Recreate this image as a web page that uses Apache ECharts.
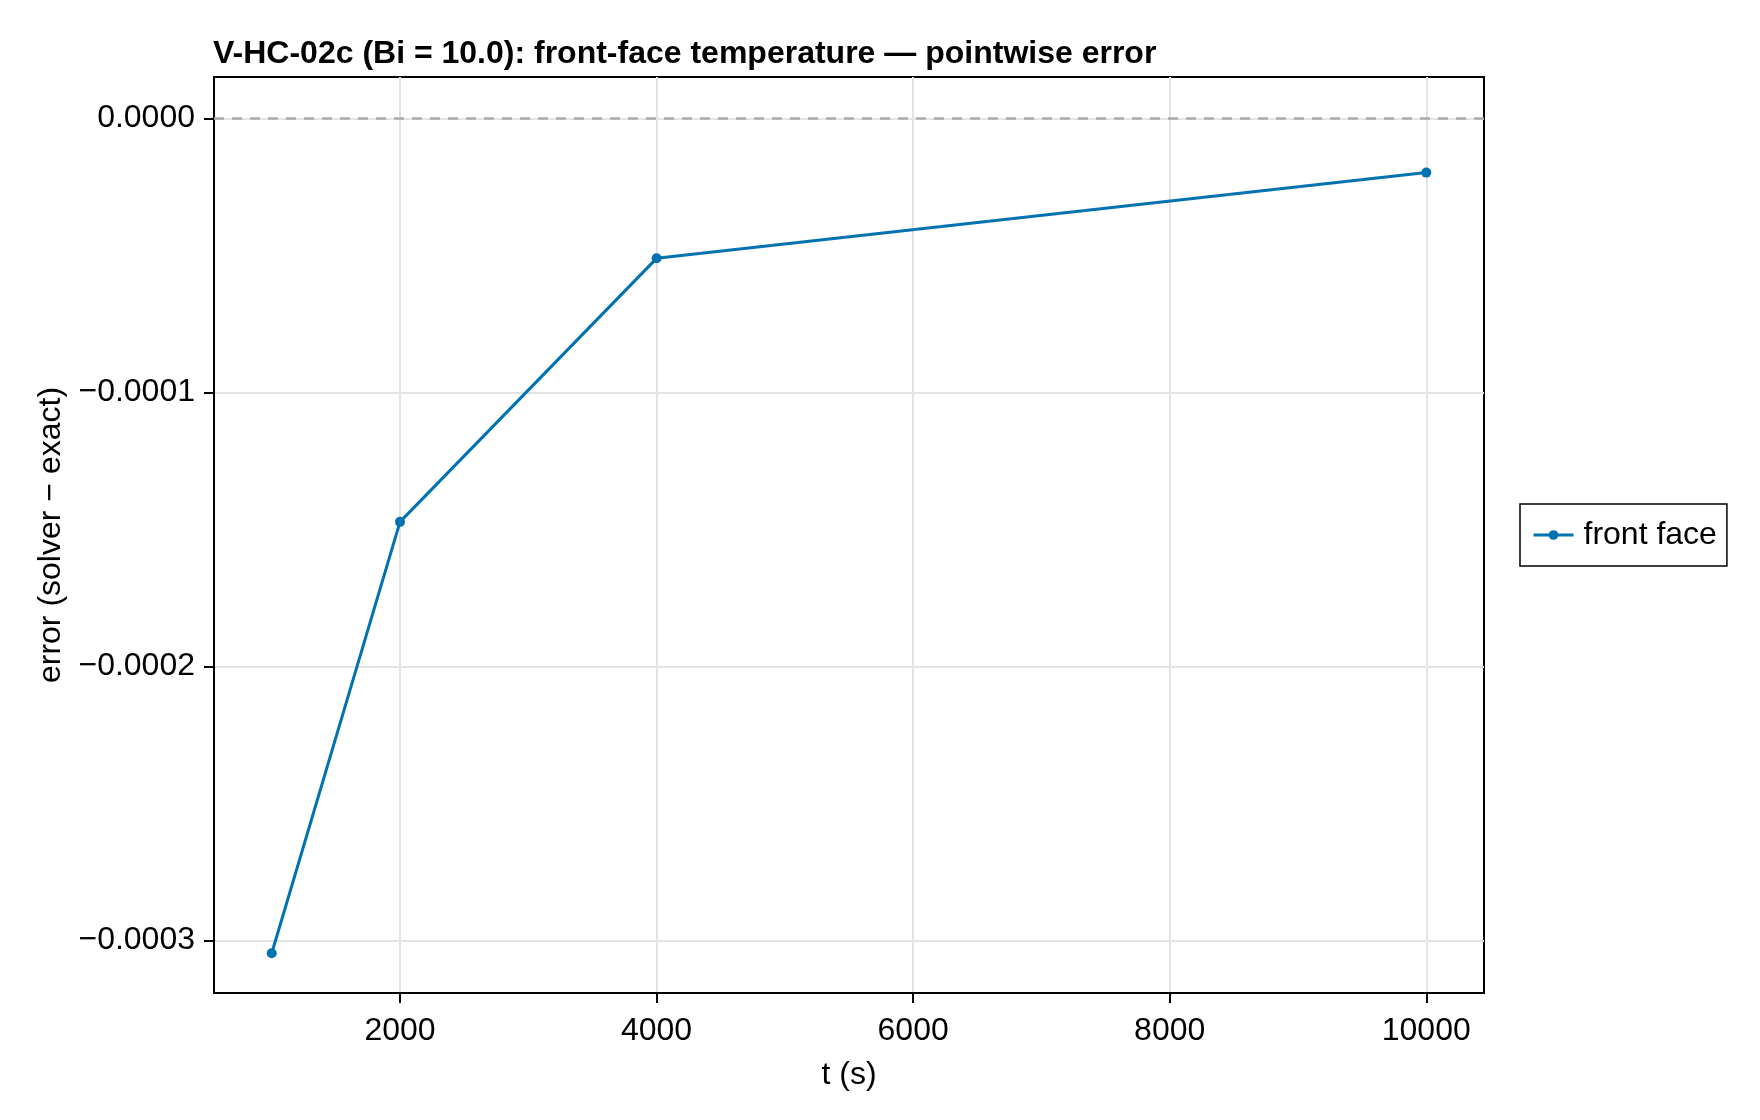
<!DOCTYPE html>
<html lang="en">
<head>
	<meta charset="UTF-8">
	<title>V-HC-02c pointwise error</title>
	<script src="https://cdn.jsdelivr.net/npm/echarts@6/dist/echarts.min.js"></script>
	<style>
		html, body { margin: 0; padding: 0; background: #fff; }
		#chart { width: 1760px; height: 1120px; }
	</style>
</head>
<body>
	<div id="chart"></div>
	<script>
		// data
		var times = [1000, 2000, 4000, 10000];
		var errors = [-0.0003047, -0.0001472, -0.0000510, -0.0000197];
		var xTicks = [2000, 4000, 6000, 8000, 10000];
		var yTicks = [0, -0.0001, -0.0002, -0.0003];
		var zeroLine = 0;

		var FONT = '"Liberation Sans", Arial, sans-serif';
		var points = times.map(function (t, i) { return [t, errors[i]]; });

		function fmtY(v) {
			var s = Number(v).toFixed(4);
			if (s === '-0.0000') s = '0.0000';
			return s.replace('-', '\u2212');
		}

		var chart = echarts.init(document.getElementById('chart'));
		chart.setOption({
			animation: false,
			backgroundColor: '#fff',
			textStyle: { fontFamily: FONT },
			title: {
				text: 'V-HC-02c (Bi = 10.0): front-face temperature \u2014 pointwise error',
				left: 208,
				top: 33,
				textStyle: { fontFamily: FONT, fontWeight: 'bold', fontSize: 32, color: '#000' }
			},
			legend: {
				left: 1520,
				top: 504,
				orient: 'vertical',
				padding: [15, 10, 15, 12],
				borderColor: '#000',
				borderWidth: 1.5,
				itemWidth: 40,
				itemHeight: 12,
				lineStyle: { width: 3 },
				textStyle: { fontFamily: FONT, fontSize: 32, color: '#000', padding: [0, 0, 0, 5] },
				data: ['front face']
			},
			grid: {
				left: 214,
				right: 276,
				top: 77,
				bottom: 127,
				show: true,
				borderColor: '#000',
				borderWidth: 2,
				containLabel: false
			},
			xAxis: {
				type: 'value',
				min: 550,
				max: 10450,
				name: 't (s)',
				nameLocation: 'middle',
				nameGap: 66,
				nameTextStyle: { fontFamily: FONT, fontSize: 32, color: '#000' },
				axisLine: { show: true, onZero: false, lineStyle: { color: '#000', width: 2 } },
				axisTick: { show: true, inside: false, length: 10, customValues: xTicks, lineStyle: { color: '#000', width: 2 } },
				axisLabel: {
					customValues: xTicks, margin: 22, fontSize: 32, color: '#000', fontFamily: FONT,
					formatter: function (v) { return String(v); }
				},
				splitLine: { show: true, lineStyle: { color: '#e3e3e3', width: 2 } }
			},
			yAxis: {
				type: 'value',
				min: -0.0003192,
				max: 0.0000152,
				name: 'error (solver \u2212 exact)',
				nameLocation: 'middle',
				nameGap: 146,
				nameRotate: 90,
				nameTextStyle: { fontFamily: FONT, fontSize: 32, color: '#000' },
				axisLine: { show: true, onZero: false, lineStyle: { color: '#000', width: 2 } },
				axisTick: { show: true, inside: false, length: 10, customValues: yTicks, lineStyle: { color: '#000', width: 2 } },
				axisLabel: { customValues: yTicks, margin: 19, fontSize: 32, color: '#000', fontFamily: FONT, formatter: fmtY },
				splitLine: { show: true, lineStyle: { color: '#e3e3e3', width: 2 } }
			},
			series: [{
				name: 'front face',
				type: 'line',
				data: points,
				color: '#0072B2',
				symbol: 'circle',
				symbolSize: 10,
				lineStyle: { width: 3, color: '#0072B2' },
				itemStyle: { color: '#0072B2' },
				markLine: {
					silent: true,
					symbol: 'none',
					label: { show: false },
					lineStyle: { color: '#aaaaaa', width: 2.5, type: [10, 8] },
					data: [{ yAxis: zeroLine }]
				}
			}]
		});
	</script>
</body>
</html>
